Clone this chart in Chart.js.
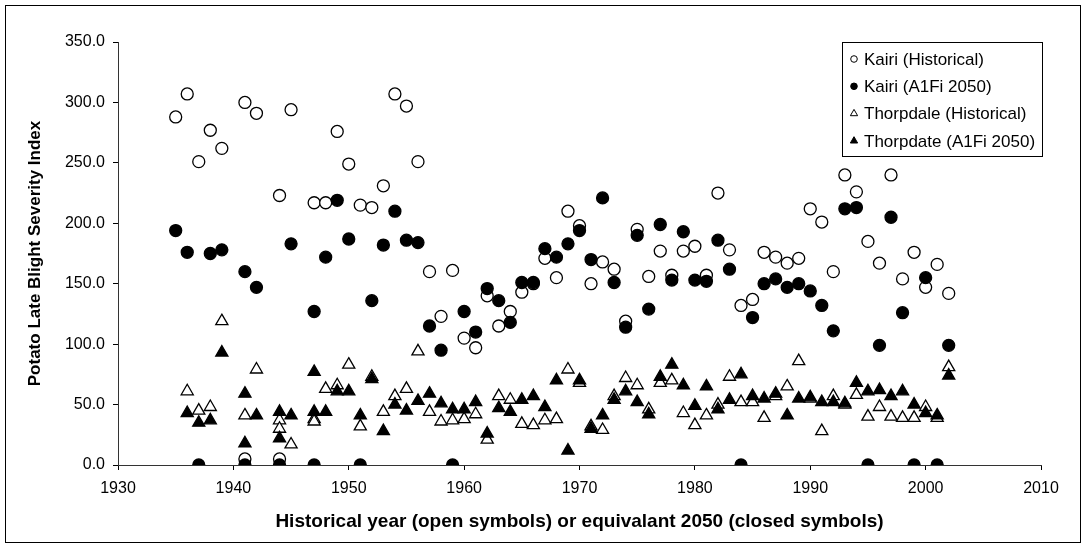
<!DOCTYPE html>
<html>
<head>
<meta charset="utf-8">
<script src="https://cdn.jsdelivr.net/npm/chart.js"></script>
<style>
  html, body { margin: 0; padding: 0; background: #fff; }
  #wrap { width: 1086px; height: 549px; position: relative; }
</style>
</head>
<body>
<div id="wrap"><canvas id="myChart"></canvas></div>
<script>
// tick labels
const xTickYears = [1930, 1940, 1950, 1960, 1970, 1980, 1990, 2000, 2010];
const yTickValues = [0, 50, 100, 150, 200, 250, 300, 350];

// Kairi, historical (open circles)
const kairiHistYears = [1935, 1936, 1937, 1938, 1939, 1941, 1941, 1942, 1944, 1944, 1945, 1947, 1948, 1949, 1950,
  1951, 1952, 1953, 1954, 1955, 1956, 1957, 1958, 1959, 1960, 1961, 1962, 1963, 1964, 1965, 1966, 1967, 1968,
  1969, 1970, 1971, 1972, 1973, 1974, 1975, 1976, 1977, 1978, 1979, 1980, 1981, 1982, 1983, 1984, 1985, 1986,
  1987, 1988, 1989, 1990, 1991, 1992, 1993, 1994, 1995, 1996, 1997, 1998, 1999, 2000, 2001, 2002];
const kairiHistIndex = [288, 307, 251, 277, 262, 300, 5, 291, 223, 5, 294, 217, 217, 276, 249,
  215, 213, 231, 307, 297, 251, 160, 123, 161, 105, 97, 140, 115, 127, 143, 150, 171, 155,
  210, 198, 150, 168, 162, 119, 195, 156, 177, 157, 177, 181, 157, 225, 178, 132, 137, 176,
  172, 167, 171, 212, 201, 160, 240, 226, 185, 167, 240, 154, 176, 147, 166, 142];

// Kairi, A1Fi 2050 (closed circles)
const kairiA1FiYears = [1935, 1936, 1937, 1938, 1939, 1941, 1941, 1942, 1944, 1945, 1947, 1947, 1948, 1949, 1950,
  1951, 1952, 1953, 1954, 1955, 1956, 1957, 1958, 1959, 1960, 1961, 1962, 1963, 1964, 1965, 1966, 1967, 1968,
  1969, 1970, 1971, 1972, 1973, 1974, 1975, 1976, 1977, 1978, 1979, 1980, 1981, 1982, 1983, 1984, 1985, 1986,
  1987, 1988, 1989, 1990, 1991, 1992, 1993, 1994, 1995, 1996, 1997, 1998, 1999, 2000, 2001, 2002];
const kairiA1FiIndex = [194, 176, 0, 175, 178, 160, 0, 147, 0, 183, 127, 0, 172, 219, 187,
  0, 136, 182, 210, 186, 184, 115, 95, 0, 127, 110, 146, 136, 118, 151, 151, 179, 172,
  183, 194, 170, 221, 151, 114, 190, 129, 199, 153, 193, 153, 152, 186, 162, 0, 122, 150,
  154, 147, 150, 144, 132, 111, 212, 213, 0, 99, 205, 126, 0, 155, 0, 99];

// Thorpdale, historical (open triangles)
const thorpHistYears = [1936, 1937, 1938, 1939, 1941, 1942, 1944, 1944, 1945, 1947, 1947, 1948, 1949, 1950,
  1951, 1952, 1953, 1954, 1955, 1956, 1957, 1958, 1959, 1960, 1961, 1962, 1963, 1964, 1965, 1966, 1967, 1968,
  1969, 1970, 1971, 1972, 1973, 1974, 1975, 1976, 1977, 1978, 1979, 1980, 1981, 1982, 1983, 1984, 1985, 1986,
  1987, 1988, 1989, 1990, 1991, 1992, 1993, 1994, 1995, 1996, 1997, 1998, 1999, 2000, 2001, 2002];
const thorpHistIndex = [61, 45, 48, 119, 41, 79, 37, 30, 17, 38, 36, 63, 66, 83,
  32, 73, 44, 57, 63, 94, 44, 36, 37, 38, 42, 21, 57, 54, 34, 33, 37, 38,
  79, 68, 32, 29, 57, 72, 66, 46, 68, 70, 43, 33, 41, 50, 73, 52, 52, 39,
  57, 65, 86, 55, 28, 57, 50, 58, 40, 48, 40, 39, 39, 48, 39, 81];

// Thorpdate, A1Fi 2050 (closed triangles)
const thorpA1FiYears = [1936, 1937, 1938, 1939, 1941, 1941, 1942, 1944, 1944, 1945, 1947, 1947, 1948, 1949, 1950,
  1951, 1952, 1953, 1954, 1955, 1956, 1957, 1958, 1959, 1960, 1961, 1962, 1963, 1964, 1965, 1966, 1967, 1968,
  1969, 1970, 1971, 1972, 1973, 1974, 1975, 1976, 1977, 1978, 1979, 1980, 1981, 1982, 1983, 1984, 1985, 1986,
  1987, 1988, 1989, 1990, 1991, 1992, 1993, 1994, 1995, 1996, 1997, 1998, 1999, 2000, 2001, 2002];
const thorpA1FiIndex = [43, 35, 37, 93, 59, 18, 41, 44, 22, 41, 77, 44, 44, 61, 61,
  41, 71, 28, 50, 45, 53, 59, 51, 46, 46, 52, 26, 47, 44, 54, 57, 48, 70,
  12, 70, 30, 41, 54, 61, 52, 42, 73, 83, 66, 49, 65, 46, 54, 75, 57, 55,
  59, 41, 55, 56, 52, 52, 51, 68, 61, 62, 57, 61, 50, 43, 41, 74];

const seriesLabels = ["Kairi (Historical)", "Kairi (A1Fi 2050)", "Thorpdale (Historical)", "Thorpdate (A1Fi 2050)"];

function toPoints(years, values) {
  var pts = [];
  for (var i = 0; i < years.length; i++) {
    pts.push({ x: years[i], y: values[i] });
  }
  return pts;
}

const FONT = "'Liberation Sans', Arial, sans-serif";

// white background + outer frame
const framePlugin = {
  id: 'frame',
  beforeDraw(chart) {
    var ctx = chart.ctx;
    ctx.save();
    ctx.fillStyle = '#fff';
    ctx.fillRect(0, 0, chart.width, chart.height);
    ctx.strokeStyle = '#000';
    ctx.lineWidth = 1;
    ctx.strokeRect(5.5, 5.5, 1075, 537);
    ctx.restore();
  }
};

// boxed legend inside the plot, top right (like the Excel one)
const boxLegendPlugin = {
  id: 'boxLegend',
  afterDraw(chart) {
    var ctx = chart.ctx;
    var left = 842.5, top = 42.5, w = 200, h = 114;
    ctx.save();
    ctx.fillStyle = '#fff';
    ctx.fillRect(left, top, w, h);
    ctx.strokeStyle = '#000';
    ctx.lineWidth = 1;
    ctx.strokeRect(left, top, w, h);
    ctx.font = '17px ' + FONT;
    ctx.textBaseline = 'middle';
    ctx.textAlign = 'left';
    chart.data.datasets.forEach(function (ds, i) {
      var y = 59 + i * 27.3;
      var mx = 854;
      ctx.beginPath();
      if (ds.pointStyle === 'triangle') {
        var r = 4.2;
        ctx.moveTo(mx, y - r);
        ctx.lineTo(mx + r * 0.866, y + r / 2);
        ctx.lineTo(mx - r * 0.866, y + r / 2);
        ctx.closePath();
      } else {
        ctx.arc(mx, y, 3.3, 0, Math.PI * 2);
      }
      ctx.fillStyle = ds.backgroundColor;
      ctx.fill();
      ctx.lineWidth = 1;
      ctx.strokeStyle = '#000';
      ctx.stroke();
      ctx.fillStyle = '#000';
      ctx.fillText(ds.label, 864, y + 1);
    });
    ctx.restore();
  }
};

function makeDataset(label, pts, style, filled, order) {
  return {
    label: label,
    data: pts,
    pointStyle: style,
    pointRadius: style === 'triangle' ? 7 : 6,
    pointHoverRadius: style === 'triangle' ? 7 : 6,
    backgroundColor: filled ? '#000' : '#fff',
    borderColor: '#000',
    borderWidth: 1.3,
    showLine: false,
    order: order
  };
}

var ctx = document.getElementById('myChart').getContext('2d');
var chart = new Chart(ctx, {
  type: 'scatter',
  data: {
    datasets: [
      makeDataset(seriesLabels[0], toPoints(kairiHistYears, kairiHistIndex), 'circle', false, 4),
      makeDataset(seriesLabels[1], toPoints(kairiA1FiYears, kairiA1FiIndex), 'circle', true, 3),
      makeDataset(seriesLabels[2], toPoints(thorpHistYears, thorpHistIndex), 'triangle', false, 2),
      makeDataset(seriesLabels[3], toPoints(thorpA1FiYears, thorpA1FiIndex), 'triangle', true, 1)
    ]
  },
  options: {
    responsive: true,
    maintainAspectRatio: false,
    animation: false,
    devicePixelRatio: 1,
    layout: { padding: { left: 0, top: 42, right: 45, bottom: 0 } },
    plugins: {
      legend: { display: false },
      tooltip: { enabled: false }
    },
    scales: {
      x: {
        type: 'linear',
        min: xTickYears[0],
        max: xTickYears[xTickYears.length - 1],
        afterBuildTicks: function (scale) {
          scale.ticks = xTickYears.map(function (v) { return { value: v }; });
        },
        afterFit: function (scale) {
          scale.height = 84;
          scale.paddingLeft = 0;
          scale.paddingRight = 0;
        },
        grid: { drawOnChartArea: false, drawTicks: true, tickLength: 5, color: '#000' },
        border: { display: true, color: '#333', width: 1 },
        ticks: {
          color: '#000',
          padding: 9,
          maxRotation: 0,
          font: { family: FONT, size: 16 },
          callback: function (v) { return String(v); }
        },
        title: {
          display: true,
          text: 'Historical year (open symbols) or equivalant 2050 (closed symbols)',
          color: '#000',
          font: { family: FONT, size: 19, weight: 'bold' },
          padding: { top: 0, bottom: 16 }
        }
      },
      y: {
        min: yTickValues[0],
        max: yTickValues[yTickValues.length - 1],
        afterBuildTicks: function (scale) {
          scale.ticks = yTickValues.map(function (v) { return { value: v }; });
        },
        afterFit: function (scale) {
          scale.width = 118;
          scale.paddingTop = 0;
          scale.paddingBottom = 0;
        },
        grid: { drawOnChartArea: false, drawTicks: true, tickLength: 5, color: '#000' },
        border: { display: true, color: '#333', width: 1 },
        ticks: {
          color: '#000',
          padding: 8,
          font: { family: FONT, size: 16 },
          callback: function (v) { return v.toFixed(1); }
        },
        title: {
          display: true,
          text: 'Potato Late Blight Severity Index',
          color: '#000',
          font: { family: FONT, size: 17, weight: 'bold' },
          padding: { top: 25, bottom: 0 }
        }
      }
    }
  },
  plugins: [framePlugin, boxLegendPlugin]
});
</script>
</body>
</html>
